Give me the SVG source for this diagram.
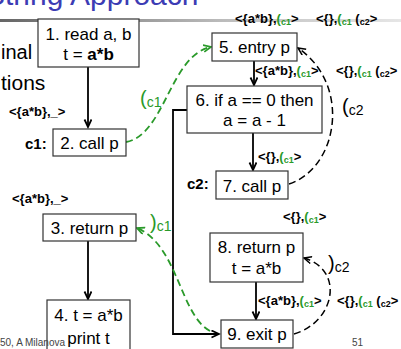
<svg xmlns="http://www.w3.org/2000/svg" width="401" height="349" viewBox="0 0 401 349">
<defs>
<linearGradient id="rule" x1="0" y1="0" x2="1" y2="0">
<stop offset="0" stop-color="#666"/>
<stop offset="0.55" stop-color="#bbb"/>
<stop offset="1" stop-color="#e6e6e6"/>
</linearGradient>
<marker id="ab" markerWidth="10" markerHeight="10" refX="8" refY="4" orient="auto" markerUnits="userSpaceOnUse">
<path d="M0.5,0.5 L8,4 L0.5,7.5" fill="none" stroke="#000" stroke-width="1.8"/>
</marker>
<marker id="ag" markerWidth="10" markerHeight="10" refX="8" refY="4" orient="auto" markerUnits="userSpaceOnUse">
<path d="M0.5,0.5 L8,4 L0.5,7.5" fill="none" stroke="#2a9a2a" stroke-width="1.8"/>
</marker>
<marker id="ad" markerWidth="10" markerHeight="10" refX="8" refY="4" orient="auto" markerUnits="userSpaceOnUse">
<path d="M0.5,0.5 L8,4 L0.5,7.5" fill="none" stroke="#000" stroke-width="1.5"/>
</marker>
</defs>
<style>
text{font-family:"Liberation Sans",Arial,sans-serif}
.box{fill:#fff;stroke:#333;stroke-width:1.2}
.nt{font-size:17px;fill:#000;text-anchor:middle}
.lb{font-size:13px;font-weight:bold;fill:#000}
.g{fill:#2a9a2a}
.sub{font-size:9px}
.cl{font-size:15px;font-weight:bold}
.solid{fill:none;stroke:#000;stroke-width:1.8}
.dg{fill:none;stroke:#2a9a2a;stroke-width:1.8;stroke-dasharray:7 4}
.dk{fill:none;stroke:#000;stroke-width:1.5;stroke-dasharray:7 4}
</style>
<text x="-15" y="5" font-size="30" fill="#3c3cb4">String Approach</text>
<rect x="0" y="19" width="401" height="3" fill="url(#rule)"/>
<text x="1" y="59" font-size="20">inal</text>
<text x="1" y="90" font-size="21">tions</text>

<g id="connectors">
<path class="solid" d="M88,67 L88,127" marker-end="url(#ab)"/>
<path class="solid" d="M88,241 L88,299" marker-end="url(#ab)"/>
<path class="solid" d="M254,61 L254,85" marker-end="url(#ab)"/>
<path class="solid" d="M253,133 L253,170" marker-end="url(#ab)"/>
<path class="solid" d="M256,282 L256,319" marker-end="url(#ab)"/>
<path class="solid" d="M187,110 L173,110 L173,334 L219,334" marker-end="url(#ab)"/>
<path class="dg" d="M126,142 C165,135 170,55 211,47" marker-end="url(#ag)"/>
<path class="dg" d="M210,331 C180,315 178,245 137,228" marker-end="url(#ag)"/>
<path class="dk" d="M289,184 C338,168 352,85 298,48" marker-end="url(#ad)"/>
<path class="dk" d="M294,334 C335,322 345,270 304,258" marker-end="url(#ad)"/>
</g>

<g id="n1"><rect class="box" x="38" y="19" width="101" height="48"/>
<text class="nt" x="88.5" y="40">1. read a, b</text>
<text class="nt" x="88.5" y="60">t = <tspan font-weight="bold">a*b</tspan></text></g>
<g id="n2"><rect class="box" x="53" y="129" width="73" height="27"/>
<text class="nt" x="89.5" y="149">2. call p</text>
<text class="cl" x="25" y="149">c1:</text></g>
<g id="n3"><rect class="box" x="43" y="214" width="93" height="27"/>
<text class="nt" x="89.5" y="234">3. return p</text></g>
<g id="n4"><rect class="box" x="47" y="300" width="83" height="50"/>
<text class="nt" x="88.5" y="321">4. t = a*b</text>
<text class="nt" x="88.5" y="344">print t</text></g>
<g id="n5"><rect class="box" x="212" y="33" width="85" height="28"/>
<text class="nt" x="254.5" y="53">5. entry p</text></g>
<g id="n6"><rect class="box" x="187" y="86" width="135" height="47"/>
<text class="nt" x="254.5" y="106">6. if a == 0 then</text>
<text class="nt" x="254.5" y="126">a = a - 1</text></g>
<g id="n7"><rect class="box" x="216" y="171" width="72" height="28"/>
<text class="nt" x="252" y="192">7. call p</text>
<text class="cl" x="187" y="189">c2:</text></g>
<g id="n8"><rect class="box" x="210" y="233" width="93" height="49"/>
<text class="nt" x="256.5" y="253">8. return p</text>
<text class="nt" x="256.5" y="274">t = a*b</text></g>
<g id="n9"><rect class="box" x="221" y="320" width="72" height="28"/>
<text class="nt" x="257" y="340">9. exit p</text></g>

<g id="labels">
<text class="lb" x="235" y="23">&lt;{a*b},<tspan class="g">(</tspan><tspan class="g sub" dy="2">c1</tspan><tspan dy="-2">&gt;</tspan></text>
<text class="lb" x="316" y="23">&lt;{},<tspan class="g">(</tspan><tspan class="g sub" dy="2">c1</tspan><tspan dy="-2"> (</tspan><tspan class="sub" dy="2">c2</tspan><tspan dy="-2">&gt;</tspan></text>
<text class="lb" x="255" y="75">&lt;{a*b},<tspan class="g">(</tspan><tspan class="g sub" dy="2">c1</tspan><tspan dy="-2">&gt;</tspan></text>
<text class="lb" x="336" y="75">&lt;{},<tspan class="g">(</tspan><tspan class="g sub" dy="2">c1</tspan><tspan dy="-2"> (</tspan><tspan class="sub" dy="2">c2</tspan><tspan dy="-2">&gt;</tspan></text>
<text class="lb" x="258" y="161">&lt;{},<tspan class="g">(</tspan><tspan class="g sub" dy="2">c1</tspan><tspan dy="-2">&gt;</tspan></text>
<text class="lb" x="283" y="221">&lt;{},<tspan class="g">(</tspan><tspan class="g sub" dy="2">c1</tspan><tspan dy="-2">&gt;</tspan></text>
<text class="lb" x="258" y="305">&lt;{a*b},<tspan class="g">(</tspan><tspan class="g sub" dy="2">c1</tspan><tspan dy="-2">&gt;</tspan></text>
<text class="lb" x="337" y="305">&lt;{},<tspan class="g">(</tspan><tspan class="g sub" dy="2">c1</tspan><tspan dy="-2"> (</tspan><tspan class="sub" dy="2">c2</tspan><tspan dy="-2">&gt;</tspan></text>
<text class="lb" x="9" y="116">&lt;{a*b},_&gt;</text>
<text class="lb" x="12" y="203">&lt;{a*b},_&gt;</text>
<text x="140" y="105" font-size="20" fill="#2a9a2a">(<tspan font-size="14" dy="2">c1</tspan></text>
<text x="150" y="229" font-size="20" fill="#2a9a2a">)<tspan font-size="14" dy="2">c1</tspan></text>
<text x="342" y="113" font-size="20" fill="#000">(<tspan font-size="14" dy="2">c2</tspan></text>
<text x="328" y="270" font-size="20" fill="#000">)<tspan font-size="14" dy="2">c2</tspan></text>
</g>
<text x="0" y="346" font-size="10" fill="#444">50, A Milanova</text>
<text x="352" y="346" font-size="10" fill="#444">51</text>
</svg>
